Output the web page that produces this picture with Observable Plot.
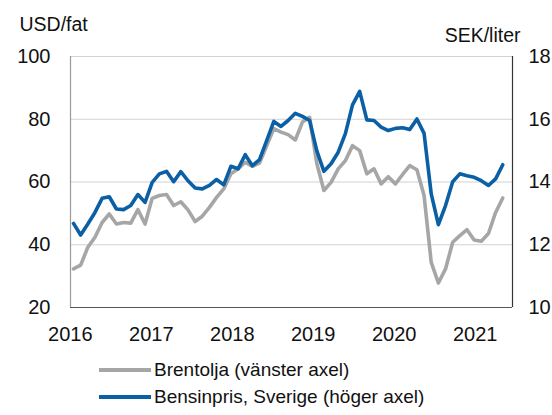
<!DOCTYPE html>
<html><head><meta charset="utf-8">
<script src="https://cdn.jsdelivr.net/npm/d3@7"></script>
<script src="https://cdn.jsdelivr.net/npm/@observablehq/plot@0.6"></script>
<style>
body{margin:0;background:#fff;font-family:"Liberation Sans",Arial,sans-serif;color:#111;}
#wrap{position:relative;width:552px;height:415px;overflow:hidden;}
.legend{margin-left:99px;margin-top:11px;font-size:19px;}
.row{display:flex;align-items:center;height:27px;}
.sw{width:52px;height:0;border-top:4px solid;margin-right:3px;}
</style></head><body><div id="wrap"></div><script>
// Monthly, Jan 2016 – Jan 2021
const brent = [32.3,33.5,39.2,42.4,47.1,49.8,46.6,47.1,46.9,51.2,46.6,54.8,
  55.7,56.0,52.5,53.7,51.1,47.4,49.1,51.9,55.1,57.8,62.6,64.2,
  66.3,65.0,66.0,71.5,77.0,75.9,75.1,73.4,79.1,80.6,66.0,57.3,
  59.9,64.2,66.8,71.6,70.0,62.6,64.2,59.4,61.7,59.4,62.4,65.2,
  63.9,55.7,34.4,27.8,32.3,40.8,42.9,44.8,41.5,41.1,43.6,50.3,54.9];
const bensin = [12.68,12.31,12.66,13.03,13.48,13.53,13.14,13.12,13.25,13.60,13.35,13.99,
  14.26,14.34,14.01,14.33,14.04,13.81,13.78,13.89,14.08,13.91,14.50,14.42,
  14.87,14.52,14.71,15.32,15.93,15.77,15.96,16.19,16.09,15.96,15.00,14.34,
  14.58,14.95,15.54,16.46,16.89,15.98,15.96,15.75,15.64,15.71,15.73,15.67,
  16.01,15.55,13.62,12.64,13.25,14.01,14.26,14.20,14.15,14.04,13.89,14.10,14.55];
const yearLabels = ["2016","2017","2018","2019","2020","2021"];
const leftTicks = [20,40,60,80,100];
const rightTicks = [10,12,14,16,18];
const seriesNames = ["Brentolja (vänster axel)","Bensinpris, Sverige (höger axel)"];
const colors = ["#a6a6a6","#0b5fa4"];

const toLeft = r => 20 + (r - 10) * 10;
const toRight = l => 10 + (l - 20) / 10;
const brentData = brent.map((v,i)=>({i, v}));
const bensinData = bensin.map((v,i)=>({i, v: toLeft(v)}));
const x0 = -0.42, x1 = 61.36;
const tickPos = yearLabels.map((d,k)=> -0.45 + k*11.32);

const chart = Plot.plot({
  width:552, height:345,
  marginLeft:70, marginRight:40, marginTop:56, marginBottom:38,
  style:{fontFamily:"'Liberation Sans',Arial,sans-serif", fontSize:"20px", color:"#111", background:"#fff"},
  x:{domain:[x0,x1]},
  y:{domain:[20,100]},
  marks:[
    Plot.ruleY([40,60,80,100],{stroke:"#d2d2d2", strokeWidth:1.2}),
    Plot.line(brentData,{x:"i", y:"v", stroke:colors[0], strokeWidth:3.6}),
    Plot.line(bensinData,{x:"i", y:"v", stroke:colors[1], strokeWidth:3.6}),
    Plot.ruleX([x0],{stroke:"#999", strokeWidth:1.2}),
    Plot.ruleX([x1],{stroke:"#333", strokeWidth:1.2}),
    Plot.ruleY([20],{stroke:"#555", strokeWidth:1.2}),
    Plot.axisY(leftTicks,{anchor:"left", tickSize:0, tickPadding:20, label:null}),
    Plot.axisY(rightTicks.map(toLeft),{anchor:"right", tickSize:0, tickPadding:16, label:null, tickFormat:d=>String(Math.round(toRight(d)))}),
    Plot.axisX(tickPos,{tickSize:0, tickPadding:19, label:null, tickFormat:(d,k)=>yearLabels[k]}),
    Plot.text(["USD/fat"],{frameAnchor:"top-left", textAnchor:"start", lineAnchor:"middle", dx:-51, dy:-32, fontSize:19.5}),
    Plot.text(["SEK/liter"],{frameAnchor:"top-right", textAnchor:"end", lineAnchor:"middle", dx:8, dy:-21, fontSize:19.5})
  ]
});
const wrap = document.getElementById("wrap");
wrap.appendChild(chart);
const leg = document.createElement("div");
leg.className = "legend";
seriesNames.forEach((n,k)=>{
  const r = document.createElement("div"); r.className="row";
  const s = document.createElement("div"); s.className="sw"; s.style.borderTopColor = colors[k];
  const t = document.createElement("span"); t.textContent = n;
  r.appendChild(s); r.appendChild(t); leg.appendChild(r);
});
wrap.appendChild(leg);
</script></body></html>
